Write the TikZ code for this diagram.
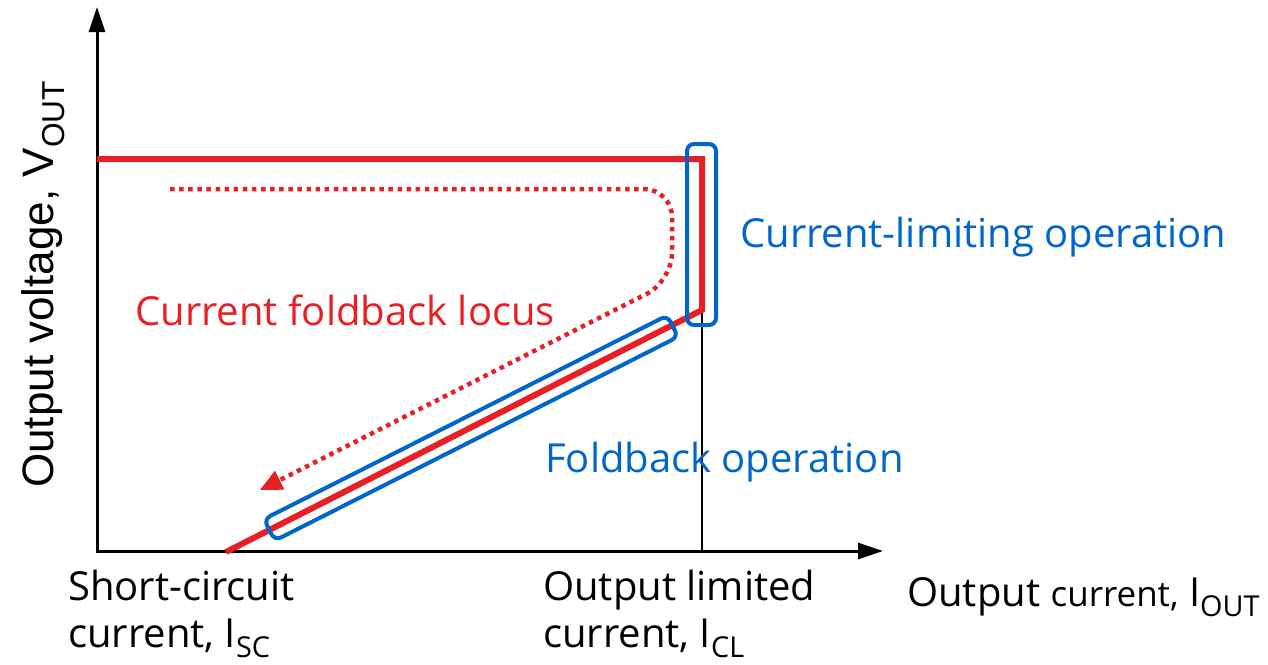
\documentclass[tikz,border=0pt]{standalone}
\usepackage{fontspec}
\setmainfont{Open Sans}
\newfontfamily\arialf{Liberation Sans}
\usetikzlibrary{arrows.meta}
\definecolor{lred}{RGB}{232,32,38}
\definecolor{lblue}{RGB}{0,102,204}
\newcommand{\mysub}[1]{\raisebox{-0.25em}{\scalebox{0.72}{#1}}}
\tikzset{
  axis/.style={line width=3pt,-{Triangle[length=25pt,width=16pt]}},
  curve/.style={lred,line width=6pt},
  locus/.style={lred,line width=4.5pt,dash pattern=on 4.5pt off 4.6pt,rounded corners=28pt},
  locustip/.style={lred,line width=1pt,-{Triangle[length=22pt,width=21pt]}},
  frame/.style={draw=lblue,line width=4pt,rounded corners=7pt,inner sep=0pt},
  lbl/.style={font=\fontsize{40}{47}\selectfont,inner sep=0pt,anchor=base west},
  two/.style={lbl,align=left}
}
\begin{document}
\begin{tikzpicture}[x=1pt,y=-1pt]
\useasboundingbox (0,0) rectangle (1268,664);
% axes
\coordinate (O) at (97,551);
\coordinate (ytip) at (97,7);
\coordinate (xtip) at (883,551);
\draw[axis] (97,552.5) -- (ytip);
\draw[axis] (95.5,551) -- (xtip);
% characteristic
\coordinate (top) at (97,159);
\coordinate (corner) at (702,159);
\coordinate (cl) at (702,310);
\coordinate (sc) at (226,552);
\coordinate (clx) at (702,551);
\draw[line width=1.5pt] (cl) -- (clx);
\draw[curve,line join=miter] (top) -- (corner) -- (cl) -- (sc);
% locus
\coordinate (l1) at (170,189);
\coordinate (l2) at (672,189);
\coordinate (l3) at (672,281);
\coordinate (l4) at (280,480);
\coordinate (l5) at (260,490);
\draw[locus] (l1) -- (l2) -- (l3) -- (l4);
\draw[locustip] (l4) -- (l5);
% boxes
\node[frame,minimum width=29pt,minimum height=181pt] (clbox) at (701.5,234.5) {};
\node[frame,minimum width=452pt,minimum height=24pt,rotate=26.8] (fbbox) at (471,428) {};
% labels
\node[lbl,text=lblue] (clop) at (740,247) {Current-limiting operation};
\node[lbl,text=lred] (locl) at (135,325) {Current foldback locus};
\node[lbl,text=lblue] (fbop) at (545,472) {Foldback operation};
\node[two] (scl) at (68,647) {Short-circuit\\current, I\mysub{SC}};
\node[two] (cll) at (543,647) {Output limited\\current, I\mysub{CL}};
\node[lbl] (xl) at (907,606) {Output {\fontsize{35}{40}\selectfont current,} I\mysub{OUT}};
\node[font=\arialf\fontsize{44}{50}\selectfont,inner sep=0pt,anchor=base west,rotate=90] (yl) at (53,488) {Output voltage, V\mysub{OUT}};
\end{tikzpicture}
\end{document}
